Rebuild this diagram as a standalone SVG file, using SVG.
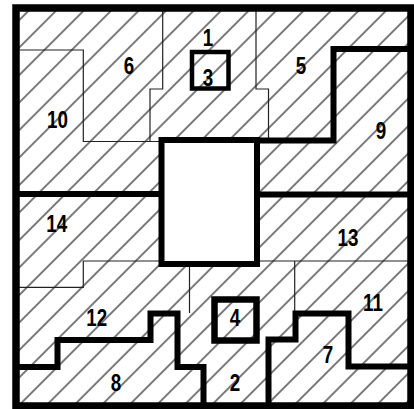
<svg xmlns="http://www.w3.org/2000/svg" width="414" height="409" viewBox="0 0 414 409">
  <style>
    .thin { fill: none; stroke: #222; stroke-width: 1.2; }
    .thick { fill: none; stroke: #000; stroke-width: 6; stroke-linejoin: miter; stroke-linecap: square; }
    .lbl { font-family: "Liberation Sans", Arial, sans-serif; font-weight: bold; font-size: 23.5px; fill: #000; text-anchor: middle; }
  </style>
  <defs>
    <pattern id="hatch" patternUnits="userSpaceOnUse" width="19.445" height="20" patternTransform="translate(-1.95,0) rotate(45)">
      <line x1="9.72" y1="-2" x2="9.72" y2="22" stroke="#111" stroke-width="1.1"/>
    </pattern>
  </defs>
  <rect x="0" y="0" width="414" height="409" fill="#fff"/>
  <g id="background">
    <rect x="16" y="8" width="395" height="398" fill="url(#hatch)"/>
  </g>
  <g id="connectors">
    <polyline class="thin" points="16,50 83.3,50 83.3,141.5 161.5,141.5"/>
    <polyline class="thin" points="162.7,8 162.7,89 150,89 150,141.5"/>
    <polyline class="thin" points="256,8 256,89 268.5,89 268.5,140.5"/>
    <polyline class="thin" points="16,287.3 83.3,287.3 83.3,261 161.5,261"/>
    <polyline class="thin" points="189.5,264 189.5,313"/>
    <polyline class="thin" points="257,261 411,261"/>
    <polyline class="thin" points="294.7,261 294.7,311"/>
    <polyline class="thick" points="16,194 161.5,194"/>
    <polyline class="thick" points="257,194.5 411,194.5"/>
    <polyline class="thick" points="257,140.5 333.5,140.5 333.5,49 411,49"/>
    <polyline class="thick" points="16,367 57.5,367 57.5,340 150.5,340 150.5,313.5 177.5,313.5 177.5,367 203.5,367 203.5,406"/>
    <polyline class="thick" points="268.5,406 268.5,339.5 295.5,339.5 295.5,313.5 348.5,313.5 348.5,366.5 411,366.5"/>
  </g>
  <g id="center-box">
    <rect x="161.5" y="140" width="95.5" height="124" fill="#fff" stroke="#000" stroke-width="6"/>
  </g>
  <g id="frame">
    <rect x="16" y="8" width="395" height="398" fill="none" stroke="#000" stroke-width="7.5"/>
  </g>
  <g id="n1"><text class="lbl" transform="translate(208,45.5) scale(0.8,1)">1</text></g>
  <g id="n3">
    <rect x="192" y="52" width="36.5" height="36.5" fill="none" stroke="#000" stroke-width="4.5"/>
    <text class="lbl" transform="translate(208,85.5) scale(0.8,1)">3</text>
  </g>
  <g id="n6"><text class="lbl" transform="translate(129,73.5) scale(0.8,1)">6</text></g>
  <g id="n10"><text class="lbl" transform="translate(57.5,127.5) scale(0.8,1)">10</text></g>
  <g id="n5"><text class="lbl" transform="translate(301,73.5) scale(0.8,1)">5</text></g>
  <g id="n9"><text class="lbl" transform="translate(381,138.5) scale(0.8,1)">9</text></g>
  <g id="n14"><text class="lbl" transform="translate(56.7,232) scale(0.8,1)">14</text></g>
  <g id="n13"><text class="lbl" transform="translate(348,246) scale(0.8,1)">13</text></g>
  <g id="n12"><text class="lbl" transform="translate(96.7,326) scale(0.8,1)">12</text></g>
  <g id="n4">
    <rect x="214.5" y="299.5" width="42" height="41" fill="none" stroke="#000" stroke-width="6.5"/>
    <text class="lbl" transform="translate(235,325.5) scale(0.8,1)">4</text>
  </g>
  <g id="n11"><text class="lbl" transform="translate(373,311) scale(0.8,1)">11</text></g>
  <g id="n7"><text class="lbl" transform="translate(328,363) scale(0.8,1)">7</text></g>
  <g id="n8"><text class="lbl" transform="translate(116,391) scale(0.8,1)">8</text></g>
  <g id="n2"><text class="lbl" transform="translate(235,390.5) scale(0.8,1)">2</text></g>
</svg>
